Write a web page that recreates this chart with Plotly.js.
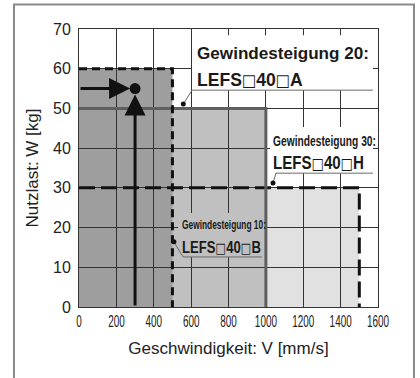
<!DOCTYPE html>
<html>
<head>
<meta charset="utf-8">
<script src="https://cdn.plot.ly/plotly-3.0.1.min.js"></script>
<style>html,body{margin:0;padding:0;background:#fff;}#chart{width:420px;height:378px;}</style>
</head>
<body>
<div id="chart"></div>
<script>
// ---- data ----
const leadLabels = ['Gewindesteigung 10:', 'Gewindesteigung 20:', 'Gewindesteigung 30:'];
const modelLabels = ['LEFS\u25A140\u25A1B', 'LEFS\u25A140\u25A1A', 'LEFS\u25A140\u25A1H'];
const maxSpeed = [500, 1000, 1500];   // mm/s
const maxLoad = [60, 50, 30];         // kg
const exampleSpeed = [300];
const exampleLoad = [55];
const xTicks = [0, 200, 400, 600, 800, 1000, 1200, 1400, 1600];
const yTicks = [0, 10, 20, 30, 40, 50, 60, 70];

// ---- styles / layout helpers ----
const fillColors = ['#9e9e9e', '#c0c0c0', '#e1e1e1'];
const lineStyles = [
  {color: '#111', width: 3, dash: '8px,5px'},
  {color: '#5f5f5f', width: 3, dash: 'solid'},
  {color: '#111', width: 3, dash: '16px,6px'}
];
const SANS = 'Liberation Sans, Arial, sans-serif';
// label layout (in axis units): dot, underline start/end, box, text lines, target widths (px)
const labelLayout = [
  {dot: [508, 16.4], ul: [557, 979, 12.6], box: [530, 990, 12.6, 23.7], boxColor: '#c0c0c0',
   t1: [538, 20.9], t1font: {size: 13, weight: 'bold'}, t1w: 84,
   t2: [540, 15.1], t2font: {size: 17, weight: 'bold'}, t2w: 79},
  {dot: [558, 51.1], ul: [605, 1573, 54.6], box: [605, 1573, 54.6, 68.4], boxColor: '#ffffff',
   t1: [620, 64.0], t1font: {size: 16.5, weight: 'bold'}, t1w: 172,
   t2: [620, 57.4], t2font: {size: 19, weight: 'bold'}, t2w: 106},
  {dot: [1038, 31.2], ul: [1054, 1573, 33.7], box: [1022, 1573, 33.7, 45.3], boxColor: '#ffffff',
   t1: [1030, 41.8], t1font: {size: 15, weight: 'bold'}, t1w: 103,
   t2: [1030, 36.3], t2font: {size: 18, weight: 'bold'}, t2w: 91}
];
// the open-square glyph is drawn from DejaVu Sans, which has a cap-height box like the original
function styleModel(s) {
  return s.replace(/\u25A1/g, '<span style="font-family:\'DejaVu Sans\';font-weight:normal;font-size:0.86em">\u25A1</span>');
}

const traces = [];
const shapes = [];
const annotations = [];

// filled regions (drawn below gridlines), largest first
[2, 1, 0].forEach(i => {
  shapes.push({type: 'rect', xref: 'x', yref: 'y', layer: 'below',
    x0: 0, x1: maxSpeed[i], y0: 0, y1: maxLoad[i],
    fillcolor: fillColors[i], line: {width: 0}});
});

// label boxes (above gridlines, below traces)
labelLayout.forEach(L => {
  shapes.push({type: 'rect', xref: 'x', yref: 'y', layer: 'between',
    x0: L.box[0], x1: L.box[1], y0: L.box[2], y1: L.box[3],
    fillcolor: L.boxColor, line: {width: 0}});
});

// boundary lines
[2, 1, 0].forEach(i => {
  traces.push({type: 'scatter', mode: 'lines',
    x: [0, maxSpeed[i], maxSpeed[i]], y: [maxLoad[i], maxLoad[i], 0],
    line: lineStyles[i], hoverinfo: 'skip', showlegend: false});
});

// leader lines + dots + labels
labelLayout.forEach((L, i) => {
  traces.push({type: 'scatter', mode: 'lines',
    x: [L.dot[0], L.ul[0], L.ul[1]], y: [L.dot[1], L.ul[2], L.ul[2]],
    line: {color: '#6a6a6a', width: 1}, hoverinfo: 'skip', showlegend: false});
  traces.push({type: 'scatter', mode: 'markers', x: [L.dot[0]], y: [L.dot[1]],
    marker: {color: '#111', size: 5}, hoverinfo: 'skip', showlegend: false});
  annotations.push({xref: 'x', yref: 'y', x: L.t1[0], y: L.t1[1], xanchor: 'left', yanchor: 'middle',
    text: leadLabels[i], showarrow: false, font: Object.assign({color: '#1a1a1a', family: SANS}, L.t1font)});
  annotations.push({xref: 'x', yref: 'y', x: L.t2[0], y: L.t2[1], xanchor: 'left', yanchor: 'middle',
    text: styleModel(modelLabels[i]), showarrow: false, font: Object.assign({color: '#1a1a1a', family: SANS}, L.t2font)});
});

// example point and arrows
traces.push({type: 'scatter', mode: 'markers', x: exampleSpeed, y: exampleLoad,
  marker: {color: '#111', size: 11}, hoverinfo: 'skip', showlegend: false});
annotations.push({xref: 'x', yref: 'y', axref: 'x', ayref: 'y',
  x: exampleSpeed[0], y: exampleLoad[0], ax: 0, ay: exampleLoad[0], text: '',
  showarrow: true, arrowhead: 2, arrowsize: 1.4, arrowwidth: 3, arrowcolor: '#111', standoff: 5});
annotations.push({xref: 'x', yref: 'y', axref: 'x', ayref: 'y',
  x: exampleSpeed[0], y: exampleLoad[0], ax: exampleSpeed[0], ay: 0, text: '',
  showarrow: true, arrowhead: 2, arrowsize: 1.4, arrowwidth: 3, arrowcolor: '#111', standoff: 6});

// outer frame
shapes.push({type: 'rect', xref: 'paper', yref: 'paper', layer: 'above',
  x0: -0.2174, x1: 1.1204, y0: -0.35, y1: 1.088,
  line: {color: '#8a8a8a', width: 2}, fillcolor: 'rgba(0,0,0,0)'});

const layout = {
  width: 420, height: 378,
  margin: {l: 79, r: 42, t: 29, b: 71},
  paper_bgcolor: '#ffffff', plot_bgcolor: '#ffffff',
  showlegend: false,
  xaxis: {
    range: [0, 1600], tickvals: xTicks, ticktext: xTicks.map(String), tickangle: 0,
    showgrid: true, gridcolor: '#333', gridwidth: 1, zeroline: false,
    showline: true, linecolor: '#333', linewidth: 1, mirror: true, ticks: '',
    tickfont: {family: SANS, size: 16, color: '#222'},
    title: {text: 'Geschwindigkeit: V [mm/s]', standoff: 12,
      font: {family: SANS, size: 17, color: '#222'}},
    fixedrange: true
  },
  yaxis: {
    range: [0, 70], tickvals: yTicks, ticktext: yTicks.map(String),
    showgrid: true, gridcolor: '#333', gridwidth: 1, zeroline: false,
    showline: true, linecolor: '#333', linewidth: 1, mirror: true, ticks: '',
    ticklabelstandoff: 4,
    tickfont: {family: SANS, size: 16, color: '#222'},
    title: {text: 'Nutzlast: W [kg]', standoff: 10,
      font: {family: SANS, size: 17, color: '#222'}},
    fixedrange: true
  },
  shapes: shapes,
  annotations: annotations
};

// horizontally condense an SVG text element around a pivot (keeps the text as real text)
function condense(el, s, pivot) {
  const bb = el.getBBox();
  const px = pivot === 'left' ? bb.x : bb.x + bb.width / 2;
  const prev = el.getAttribute('transform') || '';
  el.setAttribute('transform', prev + ' translate(' + px + ',0) scale(' + s + ',1) translate(' + (-px) + ',0)');
}

Plotly.newPlot('chart', traces, layout, {staticPlot: true, displayModeBar: false}).then(gd => {
  gd.querySelectorAll('.xtick text').forEach(t => condense(t, 0.62, 'middle'));
  const annTexts = gd.querySelectorAll('.annotation text.annotation-text');
  labelLayout.forEach((L, i) => {
    [[annTexts[2 * i], L.t1w], [annTexts[2 * i + 1], L.t2w]].forEach(([el, w]) => {
      if (!el) return;
      const bw = el.getBBox().width;
      if (bw > 0) condense(el, w / bw, 'left');
    });
  });
});
</script>
</body>
</html>
